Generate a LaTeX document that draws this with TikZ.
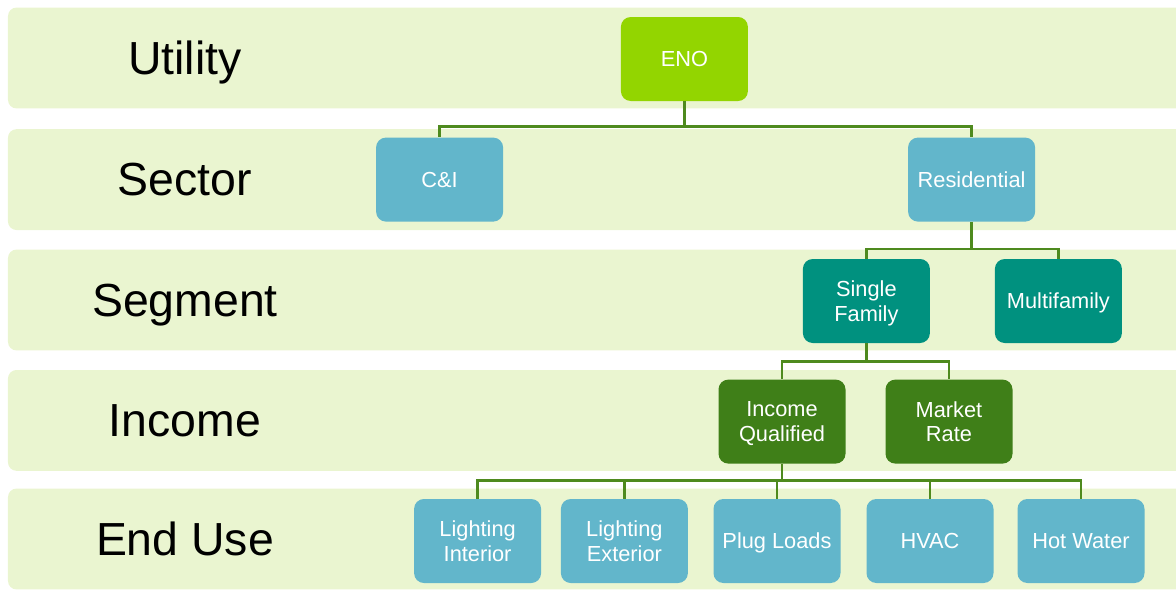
\documentclass[tikz,border=0pt]{standalone}
\usepackage{fontspec}
\setmainfont{Liberation Sans}
\usepackage{xcolor}
\usetikzlibrary{calc,positioning}
\definecolor{bandgreen}{HTML}{EAF5D0}
\definecolor{limegreen}{HTML}{93D500}
\definecolor{skyblue}{HTML}{62B6CB}
\definecolor{tealgreen}{HTML}{00917F}
\definecolor{darkgreen}{HTML}{3F7F18}
\definecolor{linegreen}{HTML}{4E8A1E}

\begin{document}
\begin{tikzpicture}[
  band/.style={fill=bandgreen, rounded corners=6pt},
  level/.style={font=\fontsize{33}{38}\selectfont, text=black, text depth=0pt},
  box/.style={rounded corners=7pt, minimum width=3.175cm, minimum height=2.1cm, align=center,
    text=white, inner sep=2pt, text depth=0pt, font=\fontsize{15.5}{17.5}\selectfont},
  link/.style={draw=linegreen, line width=2pt}
]
  \useasboundingbox (0,0) rectangle (29.4,-14.75);

  % Level bands and their labels
  \foreach \yc/\nm/\txt in {-1.45/lutil/Utility, -4.49/lsect/Sector, -7.5/lsegm/Segment, -10.51/linc/Income, -13.475/lend/End Use}{
    \fill[band] (0.2,\yc+1.26) rectangle (29.8,\yc-1.26);
    \node[level] (\nm) at (4.625,\yc) {\txt};
  }

  % Utility and sector
  \node[box, fill=limegreen] (eno) at (17.11,-1.475) {ENO};
  \node[box, fill=skyblue] (ci) at (10.99,-4.49) {C\&I};
  \node[box, fill=skyblue] (res) at (24.29,-4.49) {Residential};

  % Segment
  \node[box, fill=tealgreen] (sfam) at (21.66,-7.525) {Single\\Family};
  \node[box, fill=tealgreen] (mfam) at (26.46,-7.525) {Multifamily};

  % Income
  \node[box, fill=darkgreen] (iq) at (19.55,-10.54) {Income\\Qualified};
  \node[box, fill=darkgreen] (mr) at (23.725,-10.54) {Market\\Rate};

  % End uses
  \node[box, fill=skyblue] (lint) at (11.94,-13.525) {Lighting\\Interior};
  \node[box, fill=skyblue] (lext) at (15.61,-13.525) {Lighting\\Exterior};
  \node[box, fill=skyblue] (plug) at (19.425,-13.525) {Plug Loads};
  \node[box, fill=skyblue] (hvac) at (23.25,-13.525) {HVAC};
  \node[box, fill=skyblue] (hotw) at (27.025,-13.525) {Hot Water};

  % Connectors (fork down from each parent)
  \coordinate (b1) at ($(eno.south)+(0,-0.625)$);
  \draw[link] (eno.south) -- (b1);
  \draw[link] (b1) -| (ci.north);
  \draw[link] (b1) -| (res.north);

  \coordinate (b2) at ($(res.south)+(0,-0.68)$);
  \draw[link] (res.south) -- (b2);
  \draw[link] (b2) -| (sfam.north);
  \draw[link] (b2) -| (mfam.north);

  \coordinate (b3) at ($(sfam.south)+(0,-0.45)$);
  \draw[link] (sfam.south) -- (b3);
  \draw[link] (b3) -| (iq.north);
  \draw[link] (b3) -| (mr.north);

  \coordinate (b4) at ($(iq.south)+(0,-0.42)$);
  \draw[link] (iq.south) -- (b4);
  \foreach \c in {lint,lext,plug,hvac,hotw}
    \draw[link] (b4) -| (\c.north);
\end{tikzpicture}
\end{document}
